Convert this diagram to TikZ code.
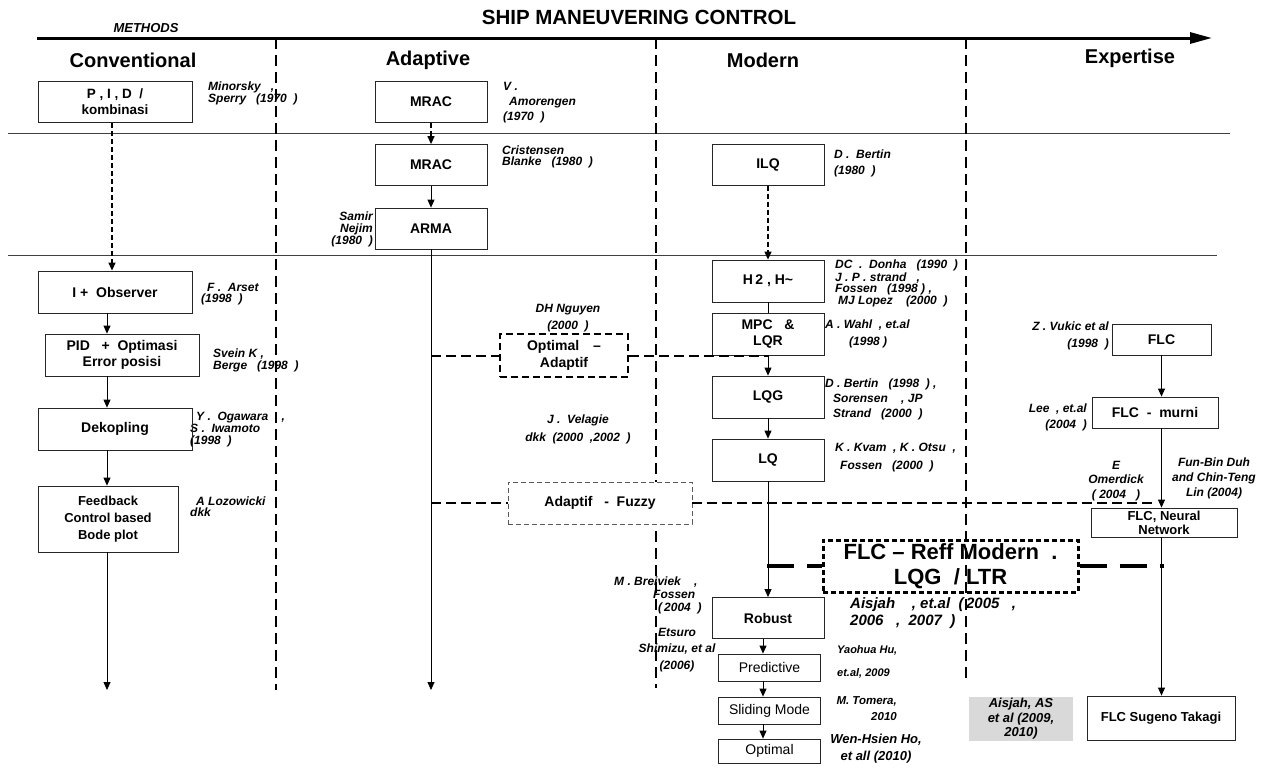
\documentclass[tikz,border=0pt]{standalone}
\usepackage{fontspec}
\setmainfont{Liberation Sans}
\usetikzlibrary{arrows.meta,calc}
\newcommand\myfs[2]{\fontsize{#1}{#2}\selectfont}
\begin{document}
\begin{tikzpicture}[x=1pt,y=-1pt,
  blk/.style={draw=black!85, line width=0.8pt, inner sep=0pt, align=center, font=\myfs{14}{16}\bfseries},
  rblk/.style={draw=black!85, line width=0.8pt, inner sep=0pt, align=center, font=\myfs{14}{16}},
  lbl/.style={inner sep=0pt, align=left, font=\myfs{12}{#1}\bfseries\itshape},
  lbl/.default=12,
  hdr/.style={inner sep=0pt, font=\myfs{20}{22}\bfseries},
  arr/.style={-{Triangle[width=7pt,length=8pt]}, line width=0.8pt},
  darr/.style={-{Triangle[width=7pt,length=8pt]}, line width=1.2pt, dash pattern=on 5pt off 3pt},
  plain/.style={line width=0.8pt},
  sepline/.style={line width=0.7pt, draw=black!75},
  divider/.style={line width=2.6pt, dash pattern=on 11pt off 6pt},
  hdash/.style={line width=2pt, dash pattern=on 10pt off 5pt},
  longdash/.style={line width=3.5pt, dash pattern=on 27pt off 13pt},
]
\useasboundingbox (0,0) rectangle (1272,774);

% title and axis
\node[inner sep=0pt, font=\myfs{20.5}{22}\bfseries] (title) at (639,17) {SHIP MANEUVERING CONTROL};
\node[inner sep=0pt, font=\myfs{13}{13}\bfseries\itshape] (methods) at (146,28) {METHODS};
\coordinate (axL) at (37,38); \coordinate (axR) at (1212,38);
\draw[line width=3pt,-{Triangle[width=11pt,length=22pt]}] (axL) -- (axR);

% column headers
\node[hdr] (hconv) at (133,60) {Conventional};
\node[hdr] (hadap) at (428,60) {Adaptive};
\node[hdr] (hmod) at (763,60) {Modern};
\node[hdr] (hexp) at (1130,58) {Expertise};

% horizontal separators
\coordinate (l1a) at (8,133); \coordinate (l1b) at (1230,133);
\coordinate (l2a) at (8,255); \coordinate (l2b) at (1217,255);
\draw[sepline] (l1a) -- (l1b);
\draw[sepline] (l2a) -- (l2b);

% labels
\node[lbl=12, anchor=north west] (minor) at (208,82) {Minorsky\ \ \ ,\\Sperry\ \ \ (1970\ \ )};
\node[lbl=15, anchor=north west] (vamor) at (503,82) {V .\\\hspace*{6pt}Amorengen\\(1970\ \ )};
\node[lbl=11, anchor=north west] (crist) at (502,146) {Cristensen\\Blanke\ \ \ (1980\ \ )};
\node[lbl=12, anchor=north east, align=right] (samir) at (373,212) {Samir\\Nejim\\(1980\ \ )};
\node[lbl=16, anchor=north west] (dbert) at (834,150) {D . \ Bertin\\(1980\ \ )};
\node[lbl=11, anchor=north west] (farset) at (201,283) {\hspace*{6pt}F . \ Arset\\(1998\ \ )};
\node[lbl=10, anchor=north west] (svein) at (213,349) {Svein K ,\\Berge\ \ \ (1998\ \ )};
\node[lbl=12, anchor=north west] (ogaw) at (190,412) {\hspace*{6pt}Y . \ Ogawara\ \ \ \ ,\\S . \ Iwamoto\\(1998\ \ )};
\node[lbl=11, anchor=north west] (lozow) at (190,497) {\hspace*{6pt}A Lozowicki\\dkk};
\node[lbl=17, align=center] (dhng) at (568,318) {DH Nguyen\\(2000\ \ )};
\node[lbl=18, align=center] (velag) at (578,429) {J . \ Velagie\\dkk\ \ (2000\ \ ,2002\ \ )};
\node[lbl=11, anchor=north west] (donha) at (835,260) {DC\ \ . \ Donha\ \ \ (1990\ \ )\\J . P . strand\ \ \ ,\\Fossen\ \ \ (1998\ ) ,\\\hspace*{3pt}MJ Lopez\ \ \ \ (2000\ \ )};
\node[lbl=17, anchor=north west] (wahl) at (825,320) {A . Wahl\ \ , et.al\\\hspace*{24pt}(1998 )};
\node[lbl=15, anchor=north west] (dbert2) at (825,379) {D . Bertin\ \ \ (1998\ \ ) ,\\\hspace*{8pt}Sorensen\ \ \ \ , JP\\\hspace*{8pt}Strand\ \ \ (2000\ \ )};
\node[lbl=18, anchor=north west] (kvam) at (835,443) {K . Kvam\ \ , K . Otsu\ \ ,\\\hspace*{5pt}Fossen\ \ \ (2000\ \ )};
\node[lbl=17, anchor=north east, align=right] (vukic) at (1109,322) {Z . Vukic et al\\(1998\ \ )};
\node[lbl=16, anchor=north east, align=right] (lee) at (1087,404) {Lee\ \ , et.al\\(2004\ \ )};
\node[lbl=14.5, align=center] (omer) at (1116,481) {E\\Omerdick\\(\ 2004\ \ \ )};
\node[lbl=15, align=center] (funbin) at (1214,478) {Fun-Bin Duh\\and Chin-Teng\\Lin (2004)};
\node[lbl=13, anchor=north west] (breiv) at (614,577) {M . Breiviek\ \ \ \ ,\\\hspace*{39pt}Fossen\\\hspace*{44pt}(\,2004\ \ )};
\node[lbl=16.5, align=center] (etsuro) at (677,650) {Etsuro\\Shimizu, et al\\(2006)};
\node[inner sep=0pt, align=left, font=\myfs{15}{17}\bfseries\itshape, anchor=north west] (aisj) at (850,597) {Aisjah\ \ \ \ , et.al\ \ (\,2005\ \ \ ,\\2006\ \ \ , \ 2007\ \ )};
\node[inner sep=0pt, align=left, font=\myfs{11}{23}\bfseries\itshape, anchor=north west] (yaohua) at (837,645) {Yaohua Hu,\\et.al, 2009};
\node[inner sep=0pt, align=right, font=\myfs{11.5}{16}\bfseries\itshape, anchor=north east] (tomera) at (897,696) {M. Tomera,\\2010};
\node[inner sep=0pt, align=center, font=\myfs{13}{17}\bfseries\itshape] (wenh) at (876,749) {Wen-Hsien Ho,\\et all (2010)};

% conventional boxes
\node[blk, font=\myfs{13.5}{16}\bfseries, minimum width=154pt, minimum height=41pt] (pid) at (115,102) {P , I , D\ \ /\\kombinasi};
\node[blk, minimum width=154pt, minimum height=42pt] (obs) at (115,292) {I +\ \ Observer};
\node[blk, minimum width=154pt, minimum height=42pt] (pido) at (122,355) {PID\ \ \ +\ \ Optimasi\\Error posisi};
\node[blk, minimum width=154pt, minimum height=42pt] (dek) at (115,429) {Dekopling};
\node[blk, font=\myfs{13}{17}\bfseries, minimum width=140pt, minimum height=66pt] (fb) at (108,519) {Feedback\\Control based\\Bode plot};

% adaptive boxes
\node[blk, minimum width=112pt, minimum height=41pt] (mrac1) at (431,102) {MRAC};
\node[blk, minimum width=112pt, minimum height=41pt] (mrac2) at (431,165) {MRAC};
\node[blk, minimum width=112pt, minimum height=41pt] (arma) at (431,228.5) {ARMA};

% modern boxes
\node[blk, minimum width=112pt, minimum height=41pt] (ilq) at (768,165) {ILQ};
\node[blk, minimum width=112pt, minimum height=42pt] (h2) at (768,281) {H\,2 , H\textasciitilde};
\node[blk, minimum width=112pt, minimum height=42pt] (mpc) at (768,334) {MPC\ \ \ \&\\LQR};
\node[blk, minimum width=112pt, minimum height=42pt] (lqg) at (768,397) {LQG};
\node[blk, minimum width=112pt, minimum height=42pt] (lq) at (768,460) {LQ};
\node[blk, minimum width=112pt, minimum height=41pt] (rob) at (768,618) {Robust};
\node[rblk, minimum width=102pt, minimum height=27pt] (pred) at (769.5,667.5) {Predictive};
\node[rblk, minimum width=102pt, minimum height=27pt] (slid) at (769.5,710.5) {Sliding Mode};
\node[rblk, minimum width=102pt, minimum height=24pt] (optm) at (769.5,751) {Optimal};

% expertise boxes
\node[blk, minimum width=99pt, minimum height=31pt] (flc) at (1161.5,339.5) {FLC};
\node[blk, minimum width=126pt, minimum height=31pt] (flcm) at (1155,412.5) {FLC\ \ -\ \ murni};
\node[blk, font=\myfs{13}{14}\bfseries, minimum width=146pt, minimum height=29pt] (flcnn) at (1164,522.5) {FLC, Neural\\Network};
\node[blk, font=\myfs{13}{15}\bfseries, minimum width=148pt, minimum height=44pt] (sug) at (1161,718) {FLC Sugeno Takagi};
\node[fill=black!15, inner sep=0pt, minimum width=104pt, minimum height=44pt, align=center, font=\myfs{13}{14.5}\bfseries\itshape] (gray) at (1021,719) {Aisjah, AS\\et al (2009,\\2010)};

% reference box
\node[draw, line width=3pt, dash pattern=on 5pt off 3pt, inner sep=0pt, minimum width=255pt, minimum height=52pt, align=center, font=\myfs{22}{25}\bfseries] (reff) at (950.5,566) {FLC – Reff Modern\ \ .\\LQG\ \ / LTR};

% column dividers
\coordinate (d1t) at (276,38); \coordinate (d1b) at (276,690);
\coordinate (d2t) at (656,38); \coordinate (d2b) at (656,688);
\coordinate (d3t) at (966,38); \coordinate (d3b) at (966,684);
\draw[divider] (d1t) -- (d1b);
\draw[divider] (d2t) -- (d2b);
\draw[divider] (d3t) -- (d3b);

% hybrid boxes
\node[draw, line width=1.6pt, dash pattern=on 7pt off 4pt, fill=white, inner sep=0pt, minimum width=128pt, minimum height=43pt, align=center, font=\myfs{14}{17}\bfseries] (opt) at (564,355.5) {Optimal\quad –\\Adaptif};
\node[draw=black!65, line width=0.8pt, dash pattern=on 5pt off 3pt, fill=white, inner sep=0pt, minimum width=184pt, minimum height=42pt, font=\myfs{14}{16}\bfseries] (fuz) at (600,503) {Adaptif\ \ \ -\ \ Fuzzy};

% conventional connectors
\coordinate (xc1) at (112,0); \coordinate (xc2) at (107,0);
\draw[darr] (pid.south -| xc1) -- (obs.north -| xc1);
\draw[arr] (obs.south -| xc2) -- (pido.north -| xc2);
\draw[arr] (pido.south -| xc2) -- (dek.north -| xc2);
\draw[arr] (dek.south -| xc2) -- (fb.north -| xc2);
\coordinate (convend) at (107,690);
\draw[arr] (fb.south -| xc2) -- (convend);

% adaptive connectors
\draw[darr] (mrac1.south) -- (mrac2.north);
\draw[arr] (mrac2.south) -- (arma.north);
\coordinate (adend) at (431,690);
\draw[arr] (arma.south) -- (adend);

% modern connectors
\draw[darr] (ilq.south) -- (h2.north);
\draw[plain] (h2.south) -- (mpc.north);
\draw[arr] (mpc.south) -- (lqg.north);
\draw[arr] (lqg.south) -- (lq.north);
\draw[arr] (lq.south) -- (rob.north);
\coordinate (xm) at (763,0);
\draw[arr] (rob.south -| xm) -- (pred.north -| xm);
\draw[arr] (pred.south -| xm) -- (slid.north -| xm);
\draw[arr] (slid.south -| xm) -- (optm.north -| xm);

% expertise connectors
\draw[arr] (flc.south) -- (flcm.north -| flc.south);
\draw[arr] (flcm.south -| flc.south) -- (flcnn.north -| flc.south);
\draw[arr] (flcnn.south -| flc.south) -- (sug.north -| flc.south);

% hybrid dashed links
\coordinate (oa) at (431,355.5);
\draw[hdash] (oa) -- (opt.west);
\draw[hdash] (opt.east) -- (opt.east -| mpc.south);
\coordinate (fa) at (431,503); \coordinate (fz) at (1156,503);
\draw[hdash] (fa) -- (fuz.west);
\draw[hdash] (fuz.east) -- (fz);
\coordinate (ra) at (767,566); \coordinate (rz) at (1164,566);
\draw[longdash] (ra) -- (reff.west);
\draw[longdash] (reff.east) -- (rz);
\end{tikzpicture}
\end{document}
